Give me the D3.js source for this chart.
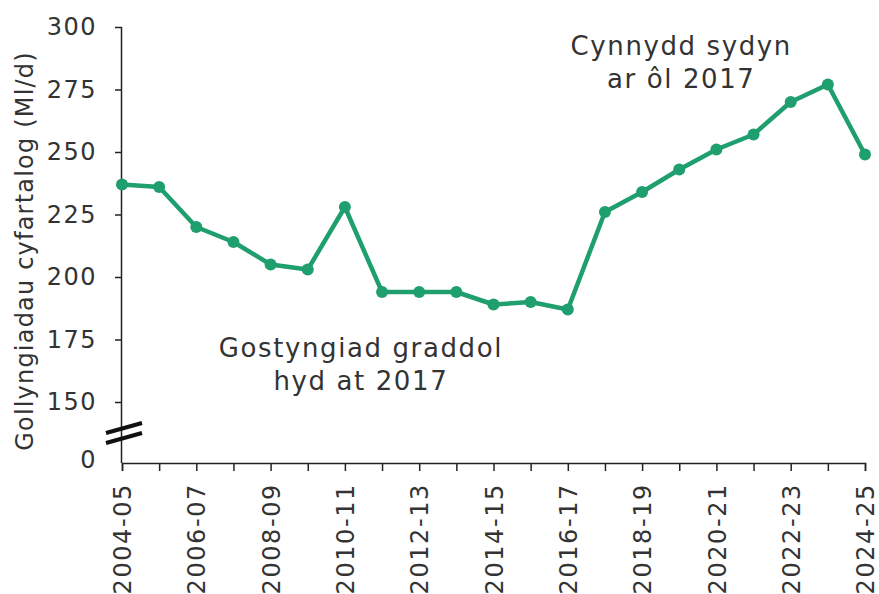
<!DOCTYPE html>
<html>
<head>
<meta charset="utf-8">
<script src="https://cdn.jsdelivr.net/npm/d3@7"></script>
<style>
	body { margin: 0; background: #fff; }
	text { font-family: "DejaVu Sans", sans-serif; fill: #333; }
</style>
</head>
<body>
<svg id="chart" width="879" height="594"></svg>
<script>
// years along the bottom
var years = ["2004-05","2005-06","2006-07","2007-08","2008-09","2009-10","2010-11",
	"2011-12","2012-13","2013-14","2014-15","2015-16","2016-17","2017-18","2018-19",
	"2019-20","2020-21","2021-22","2022-23","2023-24","2024-25"];
// average leakage, Ml/d
var leakage = [237,236,220,214,205,203,228,194,194,194,189,190,187,226,234,243,251,257,270,277,249];
var yTicks = [0,150,175,200,225,250,275,300];
var yLabel = "Gollyngiadau cyfartalog (Ml/d)";
var notes = [
	{ lines: ["Gostyngiad graddol","hyd at 2017"], year: "2010-11", value: 168 },
	{ lines: ["Cynnydd sydyn","ar ôl 2017"], year: "2019-20", value: 289 }
];
// sideways nudge of each note's centre from its year, px
var noteShift = [16, 2];

var GREEN = "#1f9e6e";
var svg = d3.select("#chart");

var x = d3.scalePoint().domain(years).range([122, 865]);
// broken axis: 0 sits just under the break, 150-300 is linear
var y = d3.scaleLinear().domain([0,150,300]).range([463,402,27]);

// x axis
var xAxis = svg.append("g")
	.attr("transform","translate(0,463)")
	.call(d3.axisBottom(x).tickSize(8)
		.tickFormat(function(d,i) { return i % 2 == 0 ? d : ""; }));
xAxis.select(".domain").attr("stroke","#222").attr("stroke-width",1.5);
xAxis.selectAll(".tick line").attr("stroke","#222").attr("stroke-width",1.5);
xAxis.selectAll(".tick text")
	.attr("font-size","24px")
	.attr("letter-spacing","1.6px")
	.attr("fill","#333")
	.attr("transform","rotate(-90)")
	.attr("text-anchor","end")
	.attr("x",-20)
	.attr("y",0)
	.attr("dy","0.36em");

// y axis
var yAxis = svg.append("g")
	.attr("transform","translate(122,0)")
	.call(d3.axisLeft(y).tickValues(yTicks).tickSize(7).tickPadding(18));
yAxis.select(".domain").attr("d","M-0.5,27V463").attr("stroke","#222").attr("stroke-width",1.5);
yAxis.selectAll(".tick line").attr("stroke","#222").attr("stroke-width",1.5)
	.filter(function(d) { return d == 0; }).remove();
yAxis.selectAll(".tick text")
	.attr("font-size","24px")
	.attr("letter-spacing","1.5px")
	.attr("fill","#333");
yAxis.selectAll(".tick").filter(function(d) { return d == 0; })
	.select("text").attr("dy","0.2em");

// break marks on the y axis
[0,10].forEach(function(off) {
	svg.append("line")
		.attr("x1",106).attr("y1",433 + off)
		.attr("x2",142).attr("y2",423 + off)
		.attr("stroke","#111")
		.attr("stroke-width",4);
});

svg.append("text")
	.attr("transform","translate(33,251) rotate(-90)")
	.attr("text-anchor","middle")
	.attr("font-size","24px")
	.attr("letter-spacing","1.2px")
	.text(yLabel);

// the line and its points
var line = d3.line()
	.x(function(d,i) { return x(years[i]); })
	.y(function(d) { return y(d); });

svg.append("path")
	.datum(leakage)
	.attr("d",line)
	.attr("fill","none")
	.attr("stroke",GREEN)
	.attr("stroke-width",4.5)
	.attr("stroke-linejoin","round");

svg.selectAll(".pt")
	.data(leakage)
	.enter()
	.append("circle")
	.attr("class","pt")
	.attr("cx",function(d,i) { return x(years[i]); })
	.attr("cy",function(d) { return y(d); })
	.attr("r",6)
	.attr("fill",GREEN);

// notes
notes.forEach(function(n,k) {
	var t = svg.append("text")
		.attr("text-anchor","middle")
		.attr("font-size","26px")
		.attr("letter-spacing","1.6px");
	n.lines.forEach(function(s,i) {
		t.append("tspan")
			.attr("x",x(n.year) + noteShift[k])
			.attr("y",y(n.value) + i*33)
			.text(s);
	});
});
</script>
</body>
</html>
